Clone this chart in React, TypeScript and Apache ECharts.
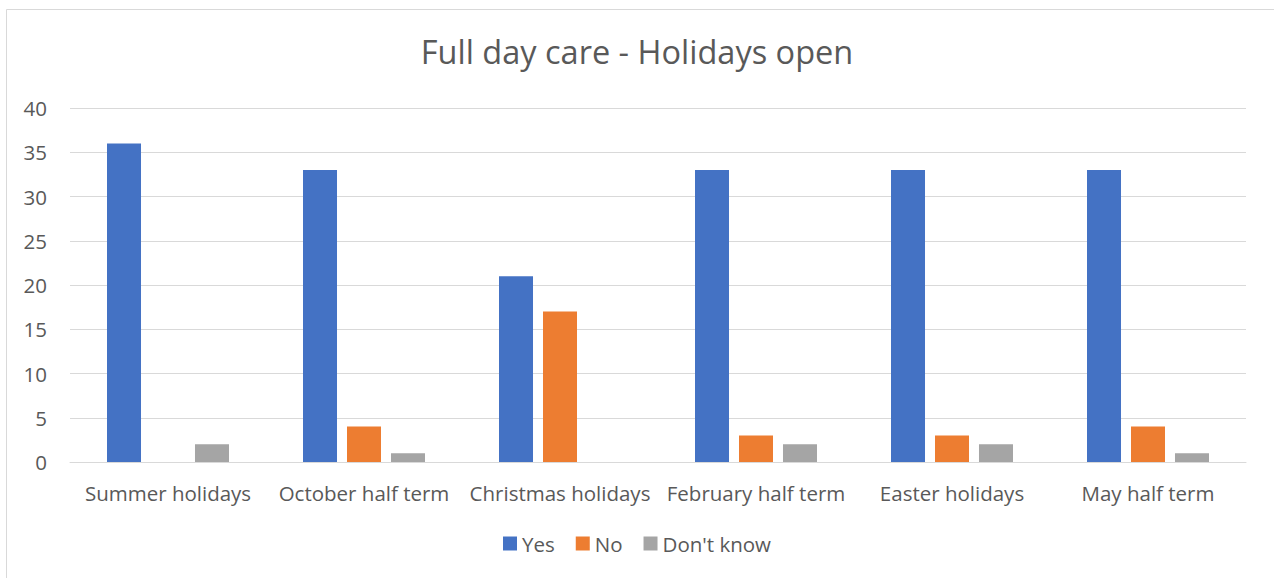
import React, { useEffect, useRef } from "react";
import * as echarts from "echarts";

const categories = [
  "Summer holidays",
  "October half term",
  "Christmas holidays",
  "February half term",
  "Easter holidays",
  "May half term",
];
const yesValues = [36, 33, 21, 33, 33, 33];
const noValues = [0, 4, 17, 3, 3, 4];
const dontKnowValues = [2, 1, 0, 2, 2, 1];
const seriesNames = ["Yes", "No", "Don't know"];
const colors = ["#4472C4", "#ED7D31", "#A5A5A5"];

const FONT = "'Open Sans', 'Noto Sans', sans-serif";
const TEXT = "#595959";

export default function App() {
  const ref = useRef<HTMLDivElement>(null);
  useEffect(() => {
    document.body.style.margin = "0";
    if (!ref.current) return;
    const chart = echarts.init(ref.current, undefined, { renderer: "svg" });
    const mk = (name: string, data: number[], color: string) => ({
      name,
      type: "bar",
      data,
      barWidth: 34,
      barGap: "29.4%",
      itemStyle: { color },
    });
    chart.setOption({
      animation: false,
      backgroundColor: "#ffffff",
      title: {
        text: "Full day care - Holidays open",
        left: "center",
        top: 30,
        textStyle: { fontFamily: FONT, fontSize: 32.5, fontWeight: "normal", color: TEXT },
      },
      graphic: [
        {
          type: "rect",
          shape: { x: 6.5, y: 9.5, width: 1300, height: 620 },
          style: { fill: "none", stroke: "#d9d9d9", lineWidth: 1 },
          silent: true,
        },
      ],
      legend: {
        data: seriesNames,
        bottom: 19,
        left: "center",
        itemWidth: 14,
        itemHeight: 14,
        itemGap: 21,
        icon: "rect",
        textStyle: { fontFamily: FONT, fontSize: 20.5, color: TEXT },
      },
      grid: { left: 70, right: 28, top: 108, bottom: 116, containLabel: false },
      xAxis: {
        type: "category",
        data: categories,
        axisLine: { lineStyle: { color: "#d9d9d9", width: 1 } },
        axisTick: { show: false },
        axisLabel: { fontFamily: FONT, fontSize: 20.5, color: TEXT, margin: 20, interval: 0 },
      },
      yAxis: {
        type: "value",
        min: 0,
        max: 40,
        interval: 5,
        axisLine: { show: false },
        axisTick: { show: false },
        splitLine: { lineStyle: { color: "#d9d9d9", width: 1 } },
        axisLabel: { fontFamily: FONT, fontSize: 20.5, color: TEXT, margin: 23 },
      },
      series: [
        mk(seriesNames[0], yesValues, colors[0]),
        mk(seriesNames[1], noValues, colors[1]),
        mk(seriesNames[2], dontKnowValues, colors[2]),
      ],
    });
    return () => chart.dispose();
  }, []);
  return <div ref={ref} style={{ width: 1274, height: 578 }} />;
}
